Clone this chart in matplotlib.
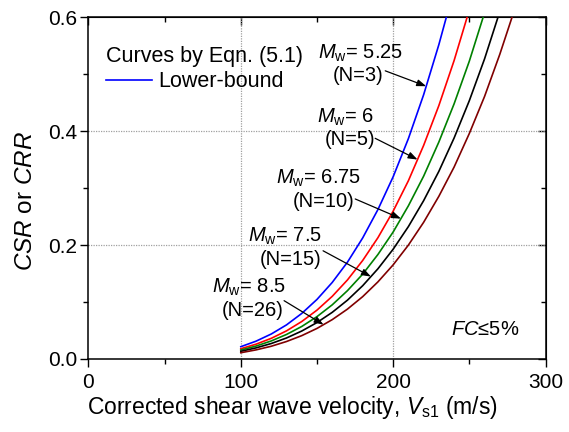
import numpy as np
import matplotlib
matplotlib.use("Agg")
import matplotlib.pyplot as plt
from matplotlib.ticker import MultipleLocator, FormatStrFormatter
from matplotlib.lines import Line2D

plt.rcParams['font.family'] = ['Liberation Sans', 'DejaVu Sans']
plt.rcParams['mathtext.fontset'] = 'custom'
plt.rcParams['mathtext.rm'] = 'Liberation Sans'
plt.rcParams['mathtext.it'] = 'Liberation Sans:italic'
plt.rcParams['mathtext.bf'] = 'Liberation Sans:bold'

# Corrected shear wave velocity Vs1 (m/s)
vs1 = [100, 110, 120, 130, 140, 150, 160, 170, 180, 190, 200,
       210, 220, 230, 240, 250, 260, 270, 280]

# CRR curves, one per earthquake magnitude
crr_mw525 = [0.0216, 0.0313, 0.0439, 0.0599, 0.080, 0.1046, 0.1344, 0.170,
             0.2126, 0.2624, 0.320, 0.387, 0.464, 0.552, 0.650]
crr_mw60 = [0.018, 0.026, 0.0363, 0.0494, 0.0658, 0.0858, 0.110, 0.1388,
            0.173, 0.213, 0.2596, 0.313, 0.375, 0.445, 0.524, 0.613]
crr_mw675 = [0.0158, 0.0227, 0.0317, 0.0431, 0.0571, 0.0744, 0.0951, 0.120,
             0.149, 0.1835, 0.223, 0.269, 0.321, 0.381, 0.448, 0.523, 0.608]
crr_mw75 = [0.0135, 0.0195, 0.0272, 0.0369, 0.0491, 0.064, 0.0819, 0.1033,
            0.1287, 0.1584, 0.1928, 0.2325, 0.278, 0.3295, 0.388, 0.4536,
            0.527, 0.610]
crr_mw85 = [0.011, 0.016, 0.0224, 0.0307, 0.041, 0.0537, 0.0691, 0.0876,
            0.1095, 0.1354, 0.1653, 0.200, 0.240, 0.2857, 0.337, 0.396,
            0.461, 0.535, 0.616]

curves = [crr_mw525, crr_mw60, crr_mw675, crr_mw75, crr_mw85]
colors = ['#0000FF', '#FF0000', '#008000', '#000000', '#800000']
mw_labels = ['5.25', '6', '6.75', '7.5', '8.5']
n_labels = ['3', '5', '10', '15', '26']

fig = plt.figure(figsize=(5.69, 4.32), dpi=100)
ax = fig.add_axes([0.1555, 0.169, 0.8032, 0.791])

for yv, c in zip(curves, colors):
    ax.plot(vs1[:len(yv)], yv, color=c, lw=1.2, zorder=3)

ax.set_xlim(0, 300)
ax.set_ylim(0, 0.6)

# dotted reference grid
for gx in (100, 200):
    ax.axvline(gx, color='#a0a0a0', lw=0.9, ls=(0, (1, 1)), zorder=1)
for gy in (0.2, 0.4):
    ax.axhline(gy, color='#a0a0a0', lw=0.9, ls=(0, (1, 1)), zorder=1)

ax.xaxis.set_major_locator(MultipleLocator(100))
ax.xaxis.set_minor_locator(MultipleLocator(50))
ax.yaxis.set_major_locator(MultipleLocator(0.2))
ax.yaxis.set_minor_locator(MultipleLocator(0.1))
ax.yaxis.set_major_formatter(FormatStrFormatter('%.1f'))
ax.tick_params(axis='both', which='major', direction='out', length=6,
               width=1, labelsize=15)
ax.tick_params(axis='x', which='major', pad=4)
ax.tick_params(axis='y', which='major', pad=2)
ax.tick_params(axis='both', which='minor', direction='out', length=3.5,
               width=1)
for s in ax.spines.values():
    s.set_linewidth(1.1)

# mirrored inward ticks on top and right
axt = ax.secondary_xaxis('top')
axt.xaxis.set_major_locator(MultipleLocator(100))
axt.xaxis.set_minor_locator(MultipleLocator(50))
axt.tick_params(which='major', direction='in', length=6, width=1, labeltop=False)
axt.tick_params(which='minor', direction='in', length=3.5, width=1)
axr = ax.secondary_yaxis('right')
axr.yaxis.set_major_locator(MultipleLocator(0.2))
axr.yaxis.set_minor_locator(MultipleLocator(0.1))
axr.tick_params(which='major', direction='in', length=6, width=1, labelright=False)
axr.tick_params(which='minor', direction='in', length=3.5, width=1)

ax.set_xlabel(r'Corrected shear wave velocity, $V_{\rm s1}$ (m/s)',
              fontsize=16.5)
ax.xaxis.set_label_coords(0.447, -0.102)
ax.xaxis.label.set_va('top')
ax.set_ylabel(r'$CSR$ or $CRR$', fontsize=17.5)
ax.yaxis.set_label_coords(-0.113, 0.462)

# legend
handle = Line2D([], [], color='#0000FF', lw=1.2)
leg = ax.legend([handle], ['Lower-bound'], title='Curves by Eqn. (5.1)',
                loc='upper left', bbox_to_anchor=(0.005, 0.96),
                frameon=False, fontsize=15.5, title_fontsize=15.5,
                handlelength=2.15, handletextpad=0.28, borderpad=0.2,
                labelspacing=0.2)
leg._legend_box.align = 'left'

# magnitude labels with arrows
mw_pos = [(150.8, 0.527), (149.9, 0.415), (123.0, 0.3085), (105.0, 0.206), (80.9, 0.1164)]
n_pos = [(160.6, 0.497), (155.4, 0.386), (134.2, 0.276), (112.7, 0.174), (87.5, 0.086)]
arrow_from = [(194.8, 0.506), (188.2, 0.3875), (175.1, 0.281), (154.0, 0.190), (128.4, 0.1024)]
arrow_to_x = [221.7, 216.0, 205.1, 185.4, 154.3]

for i in range(5):
    ax.text(*mw_pos[i], r'$M_{\rm w}$= ' + mw_labels[i], fontsize=14.5,
            ha='left', va='baseline')
    ax.text(*n_pos[i], '(N=' + n_labels[i] + ')', fontsize=14.5,
            ha='left', va='center')
    yv = curves[i]
    ty = np.interp(arrow_to_x[i], vs1[:len(yv)], yv)
    ax.annotate('', xy=(arrow_to_x[i], ty), xytext=arrow_from[i],
                arrowprops=dict(arrowstyle='-|>,head_length=0.55,head_width=0.2',
                                color='black', lw=0.9, shrinkA=0, shrinkB=0),
                zorder=4)

ax.text(260.5, 0.052, r'$FC$≤5%', fontsize=14.5, ha='center', va='center')

fig.savefig('out.png', dpi=100)
